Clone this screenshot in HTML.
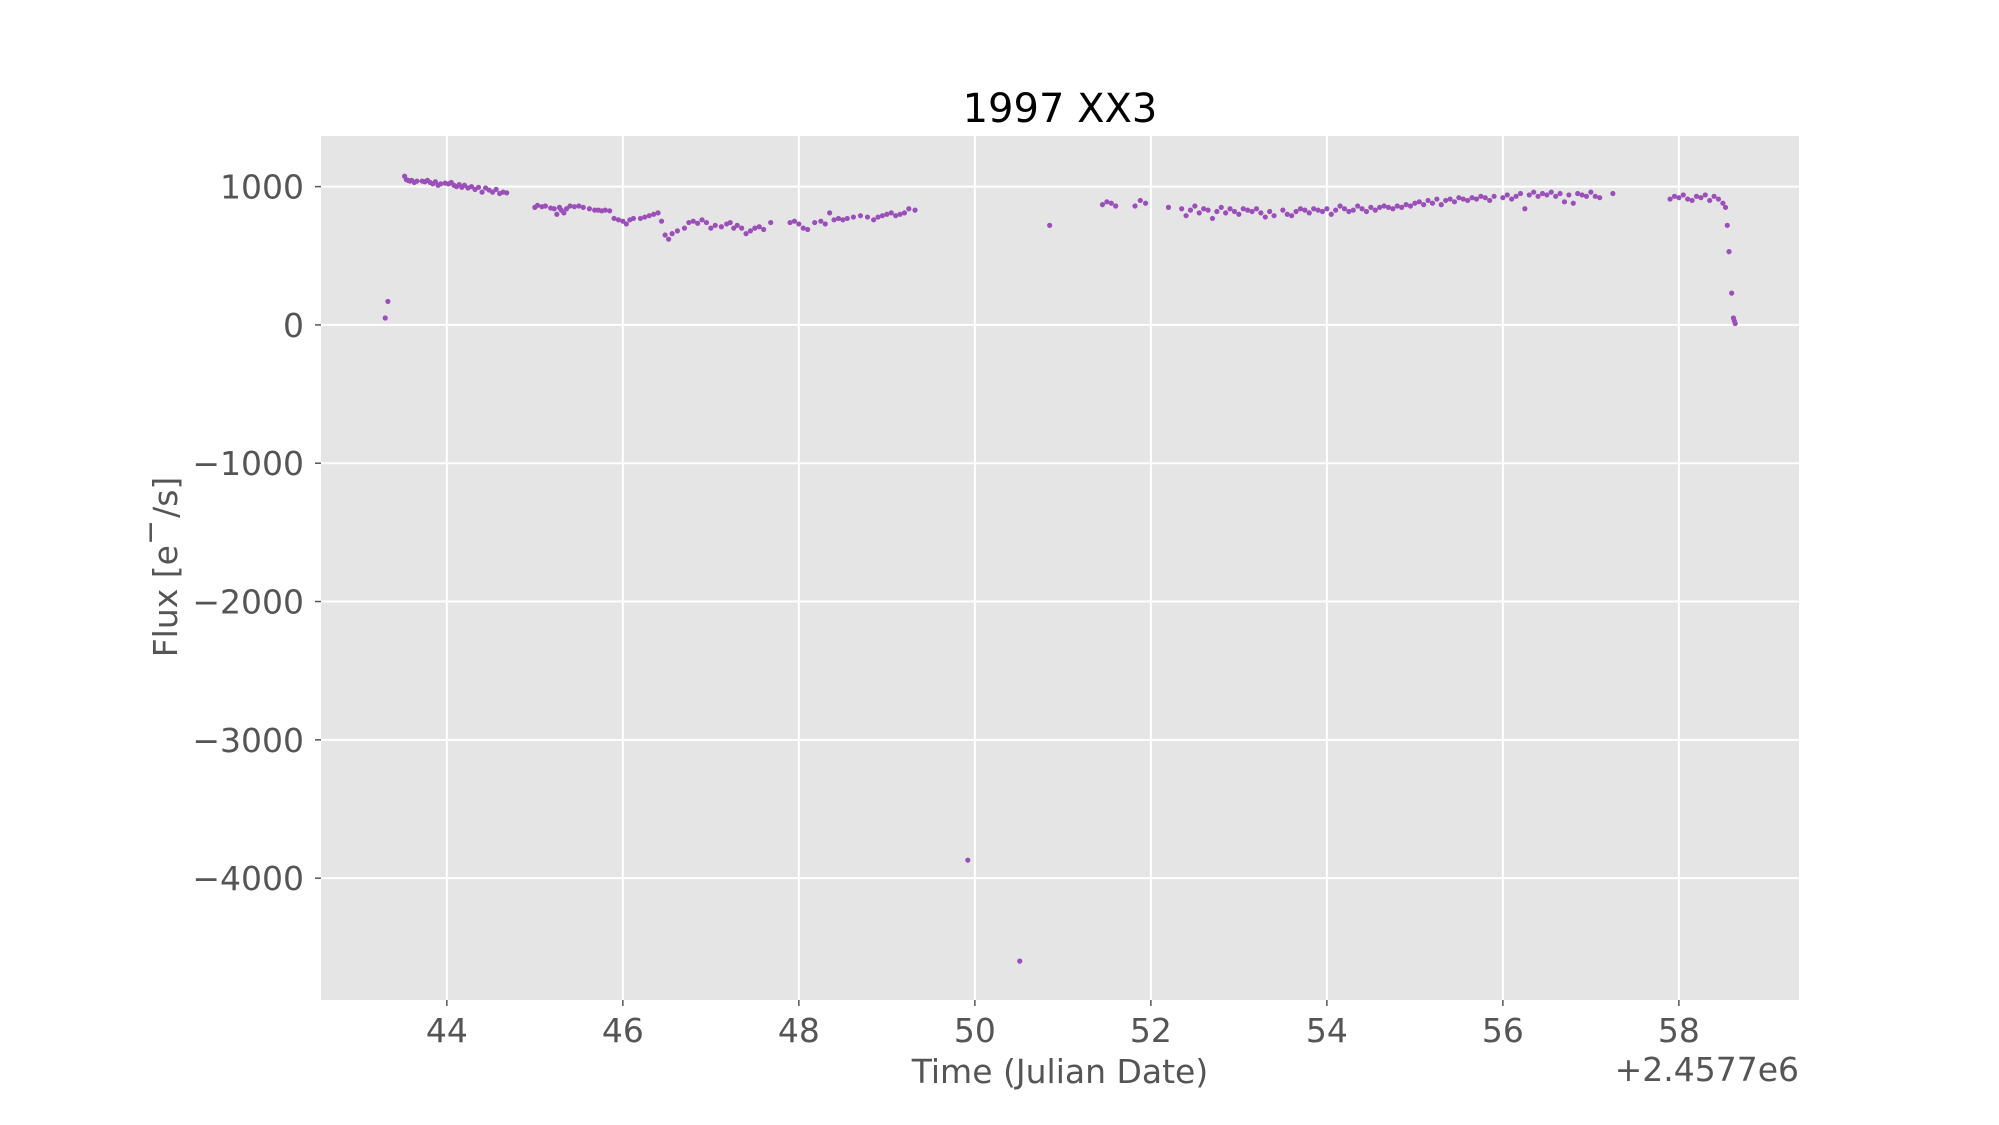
<!DOCTYPE html>
<html><head><meta charset="utf-8"><style>
html,body{margin:0;padding:0;background:#fff;}
svg{display:block;font-family:"DejaVu Sans","Liberation Sans",sans-serif;}
</style></head><body>
<svg id="chart" width="1999" height="1125" xmlns="http://www.w3.org/2000/svg">
<rect x="321" y="136" width="1478" height="864" fill="#E5E5E5"/>
<g id="grid"></g>
<g id="points"></g>
<g id="xticks"></g>
<g id="yticks"></g>
<text x="1060" y="122" font-size="40" text-anchor="middle" fill="#000">1997 XX3</text>
<text x="1060" y="1083" font-size="33" text-anchor="middle" fill="#555">Time (Julian Date)</text>
<text x="1799" y="1081" font-size="33" text-anchor="end" fill="#555">+2.4577e6</text>
<text x="0" y="0" font-size="33" text-anchor="middle" fill="#555" transform="translate(177,567) rotate(-90)">Flux [e<tspan baseline-shift="super" font-size="30">−</tspan><tspan dx="2">/s]</tspan></text>
</svg>
<script>
const xTicks = [44,46,48,50,52,54,56,58];
const yTicks = [1000,0,-1000,-2000,-3000,-4000];
const yTickLabels = ["1000","0","−1000","−2000","−3000","−4000"];
const times = [43.30,43.33,
43.52,43.54,43.56,43.58,43.60,43.63,43.66,43.72,43.75,43.78,43.81,43.84,43.87,43.90,43.93,43.98,44.02,44.05,44.08,44.11,44.14,44.17,44.20,44.24,44.28,44.32,44.36,44.40,44.44,44.48,44.52,44.56,44.60,44.64,44.68,
45.00,45.03,45.08,45.12,45.18,45.22,45.25,45.28,45.30,45.33,45.36,45.40,45.45,45.50,45.55,45.62,45.68,45.72,45.76,45.80,45.85,
45.90,45.95,46.00,46.04,46.08,46.12,46.20,46.25,46.30,46.35,46.40,46.44,
46.48,46.52,46.56,46.62,46.70,46.75,46.80,46.85,46.90,46.95,47.00,47.05,47.12,47.18,47.22,47.26,47.30,47.35,47.40,47.45,47.50,47.55,47.60,47.68,
47.90,47.95,48.00,48.05,48.10,48.18,48.25,48.30,48.35,48.40,48.45,48.50,48.55,48.62,48.70,48.78,48.85,48.90,48.95,49.00,49.05,49.10,49.15,49.20,49.25,49.32,
49.92,50.51,50.85,
51.45,51.50,51.55,51.60,51.82,51.88,51.94,52.20,
52.35,52.40,52.45,52.50,52.55,52.60,52.65,52.70,52.75,52.80,52.85,52.90,52.95,53.00,53.05,53.10,53.15,53.20,53.25,53.30,53.35,53.40,
53.50,53.55,53.60,53.65,53.70,53.75,53.80,53.85,53.90,53.95,54.00,54.05,54.10,54.15,54.20,54.25,54.30,54.35,54.40,54.45,54.50,54.55,54.60,
54.65,54.70,54.75,54.80,54.85,54.90,54.95,55.00,55.05,55.10,55.15,55.20,55.25,55.30,55.35,55.40,55.45,55.50,55.55,55.60,55.65,55.70,55.75,55.80,55.85,55.90,
56.00,56.05,56.10,56.15,56.20,56.25,56.30,56.35,56.40,56.45,56.50,56.55,56.60,56.65,56.70,56.75,56.80,56.85,56.90,56.95,57.00,57.05,57.10,57.25,
57.90,57.95,58.00,58.05,58.10,58.15,58.20,58.25,58.30,58.35,58.40,58.45,58.50,58.53,58.55,58.57,58.60,58.62,58.63,58.64];
const fluxes = [50,170,
1075,1050,1045,1040,1045,1030,1040,1040,1035,1045,1030,1020,1035,1010,1020,1025,1020,1030,1010,1000,1015,995,1010,990,1000,980,995,960,990,975,960,980,950,960,955,
850,865,855,860,845,840,800,850,830,810,840,860,855,860,850,840,830,830,825,830,825,
770,760,750,730,760,770,770,780,790,800,810,750,
650,620,660,680,700,740,750,735,760,740,700,720,710,730,740,700,720,700,660,680,700,710,690,740,
740,750,730,700,690,740,750,730,810,760,770,760,770,780,790,780,760,780,790,800,810,790,800,810,840,830,
-3870,-4600,720,
870,890,880,860,860,900,880,850,
840,790,830,860,810,840,830,770,820,850,810,840,820,800,840,830,820,840,810,780,820,790,
830,800,790,820,840,830,810,840,830,820,840,800,830,860,840,820,830,860,840,820,850,830,850,
860,850,840,860,850,870,860,880,890,870,900,880,910,870,900,910,890,920,910,900,920,910,930,920,900,930,
920,940,910,930,950,840,940,960,930,950,940,960,930,950,890,940,880,950,940,930,960,930,920,950,
910,930,920,940,910,900,930,920,940,900,930,910,880,850,720,530,230,50,30,10];

const NS='http://www.w3.org/2000/svg';
const X0=321,X1=1799,Y0=136,Y1=1000;
const xMin=42.57,xMax=59.365,yMax=1366,yMin=-4881;
function xs(t){return X0+(t-xMin)/(xMax-xMin)*(X1-X0);}
function ys(f){return Y0+(yMax-f)/(yMax-yMin)*(Y1-Y0);}
function mk(tag,attrs,parent){const e=document.createElementNS(NS,tag);for(const k in attrs)e.setAttribute(k,attrs[k]);parent.appendChild(e);return e;}
const grid=document.getElementById('grid'),xg=document.getElementById('xticks'),yg=document.getElementById('yticks'),pg=document.getElementById('points');
xTicks.forEach(v=>{const x=xs(v);
 const l=mk('line',{x1:x,x2:x,y1:Y0,y2:Y1,stroke:'#fff','stroke-width':2},grid);
 
 
 const tk=mk('line',{x1:x,x2:x,y1:Y1,y2:Y1+6,stroke:'#555','stroke-width':1.5},xg);
 
 
 const t=mk('text',{x:x,y:Y1+42,'font-size':33,'text-anchor':'middle',fill:'#555'},xg);
 t.textContent=String(v);
 
 
});
yTicks.forEach((v,i)=>{const y=ys(v);
 const l=mk('line',{x1:X0,x2:X1,y1:y,y2:y,stroke:'#fff','stroke-width':2},grid);
 
 
 const tk=mk('line',{x1:X0-6,x2:X0,y1:y,y2:y,stroke:'#555','stroke-width':1.5},yg);
 
 
 const t=mk('text',{x:X0-17,y:y+12,'font-size':33,'text-anchor':'end',fill:'#555'},yg);
 t.textContent=yTickLabels[i];
 
 
});
times.forEach((t,i)=>{
 const c=mk('circle',{cx:xs(t),cy:ys(fluxes[i]),r:2.6,fill:'#9b4fb8'},pg);
 
 
});
</script>
</body></html>
